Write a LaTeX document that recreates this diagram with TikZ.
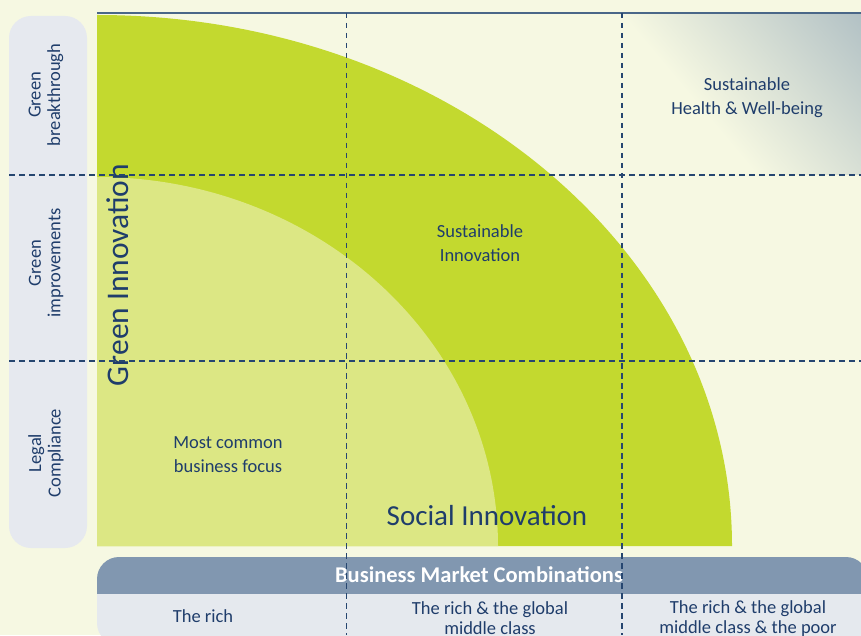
\documentclass[tikz,border=0pt]{standalone}
\usepackage{fontspec}
\setmainfont{Carlito}
\definecolor{bg}{HTML}{F6F8E2}
\definecolor{outergreen}{HTML}{C3D92F}
\definecolor{innergreen}{HTML}{DCE784}
\definecolor{leftcol}{HTML}{E6E9EF}
\definecolor{headerbar}{HTML}{8197B0}
\definecolor{lowerbar}{HTML}{E5E9EE}
\definecolor{navy}{HTML}{1F3D6B}
\definecolor{dashcol}{HTML}{264670}
\definecolor{topline}{HTML}{4A6788}
\definecolor{gradgray}{HTML}{A2B4BE}
\pgfdeclarehorizontalshading{cellgrad}{100bp}{color(0bp)=(bg); color(40bp)=(bg); color(96bp)=(gradgray); color(100bp)=(gradgray)}
\begin{document}
\begin{tikzpicture}[x=1pt,y=1pt,
  txt/.style={text=navy, font=\fontsize{18.5}{24}\selectfont, align=center, inner sep=0pt},
  sidetxt/.style={text=navy, font=\fontsize{18.5}{19.5}\selectfont, align=center, inner sep=0pt, rotate=90},
  bigtxt/.style={text=navy, font=\fontsize{31.5}{34}\selectfont, inner sep=0pt},
  bartxt/.style={text=navy, font=\fontsize{18.5}{20}\selectfont, align=center, inner sep=0pt},
  gridline/.style={draw=dashcol, line width=1.5pt, dash pattern=on 5.5pt off 4.5pt}]
\useasboundingbox (0,0) rectangle (861,635);
\clip (0,0) rectangle (861,635);
% background
\fill[bg] (0,0) rectangle (861,635);
% left column
\fill[leftcol, rounded corners=22pt] (9,87) rectangle (87,619);
% green quarter ellipses
\fill[outergreen] (97,89) -- (97,620) arc[start angle=90, end angle=0, x radius=635pt, y radius=531pt] -- cycle;
\fill[innergreen] (97,89) -- (97,458) arc[start angle=90, end angle=0, x radius=401pt, y radius=369pt] -- cycle;
% gradient cell
\shade[shading=cellgrad, shading angle=40] (622,460) rectangle (861,622);
% top line
\draw[topline, line width=1.4pt] (97,622) -- (861,622);
% bottom bar
\begin{scope}
  \clip (0,0) rectangle (861,42);
  \fill[lowerbar, rounded corners=22pt] (97,-10) rectangle (868,78);
\end{scope}
\begin{scope}
  \clip (0,42) rectangle (861,80);
  \fill[headerbar, rounded corners=22pt] (97,-10) rectangle (868,78);
\end{scope}
% texts
\node[sidetxt] (lb1) at (46,540) {Green\\breakthrough};
\node[sidetxt] (lb2) at (46,372) {Green\\improvements};
\node[sidetxt] (lb3) at (46,182) {Legal\\Compliance};
\node[bigtxt, rotate=90, anchor=base] (gi) at (128,360) {Green Innovation};
\node[bigtxt, anchor=base, font=\fontsize{29}{34}\selectfont] (si) at (487,110) {Social Innovation};
\node[txt] (shw) at (747,537.5) {Sustainable\\Health \& Well-being};
\node[txt] (sin) at (480,392) {Sustainable\\Innovation};
\node[txt] (mcb) at (228,180.5) {Most common\\business focus};
\node[anchor=base, text=white, inner sep=0pt, font=\fontsize{22.5}{24}\selectfont\bfseries] (bmc) at (479,53) {Business Market Combinations};
\node[bartxt, anchor=base] (r1) at (203,13) {The rich};
\node[bartxt] (r2) at (490,16.7) {The rich \& the global\\middle class};
\node[bartxt] (r3) at (748,16.7) {The rich \& the global\\middle class \& the poor};
% dashed grid
\draw[gridline] (9,460) -- (861,460);
\draw[gridline] (9,274) -- (861,274);
\draw[gridline] (346.5,622) -- (346.5,0);
\draw[gridline] (622,622) -- (622,0);
\end{tikzpicture}
\end{document}
